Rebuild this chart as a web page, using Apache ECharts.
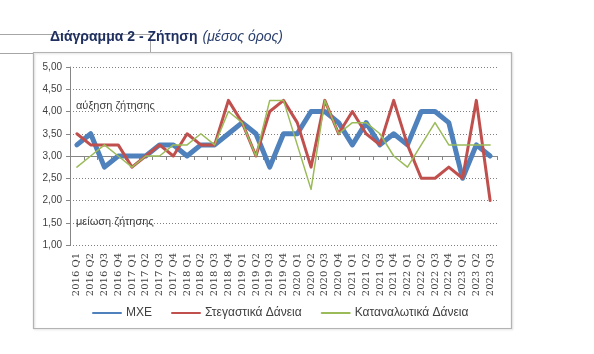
<!DOCTYPE html>
<html>
<head>
<meta charset="utf-8">
<script src="https://cdn.jsdelivr.net/npm/echarts@6/dist/echarts.min.js"></script>
<style>
html,body{margin:0;padding:0;background:#fff;}
#chart{width:594px;height:354px;}
</style>
</head>
<body>
<div id="chart"></div>
<script>
var categories = ['2016 Q1','2016 Q2','2016 Q3','2016 Q4','2017 Q1','2017 Q2','2017 Q3','2017 Q4',
  '2018 Q1','2018 Q2','2018 Q3','2018 Q4','2019 Q1','2019 Q2','2019 Q3','2019 Q4',
  '2020 Q1','2020 Q2','2020 Q3','2020 Q4','2021 Q1','2021 Q2','2021 Q3','2021 Q4',
  '2022 Q1','2022 Q2','2022 Q3','2022 Q4','2023 Q1','2023 Q2','2023 Q3'];
var seriesNames = ['ΜΧΕ', 'Στεγαστικά Δάνεια', 'Καταναλωτικά Δάνεια'];
var mxe = [3.25,3.5,2.75,3.0,3.0,3.0,3.25,3.25,3.0,3.25,3.25,3.5,3.75,3.5,2.75,3.5,
  3.5,4.0,4.0,3.75,3.25,3.75,3.25,3.5,3.25,4.0,4.0,3.75,2.5,3.25,3.0];
var housing = [3.5,3.25,3.25,3.25,2.75,3.0,3.25,3.0,3.5,3.25,3.25,4.25,3.75,3.0,4.0,4.25,
  3.75,2.75,4.25,3.5,4.0,3.5,3.25,4.25,3.25,2.5,2.5,2.75,2.5,4.25,2.0];
var consumer = [2.75,3.0,3.25,3.0,2.75,3.0,3.0,3.25,3.25,3.5,3.25,4.0,3.75,3.0,4.25,4.25,
  3.25,2.25,4.25,3.5,3.75,3.75,3.5,3.0,2.75,3.25,3.75,3.25,3.25,3.25,3.25];
var titleMain = 'Διάγραμμα 2 - Ζήτηση';
var titleSub = '(μέσος όρος)';
var noteUp = 'αύξηση ζήτησης';
var noteDown = 'μείωση ζήτησης';

var colors = ['#4f81bd', '#c0504d', '#9bbb59'];
var widths = [5, 3, 1.5];

var chart = echarts.init(document.getElementById('chart'), null, {renderer: 'canvas'});
var option = {
  backgroundColor: '#ffffff',
  animation: false,
  title: {
    left: 45, top: 23,
    text: '{b|' + titleMain + '} {i|' + titleSub + '}',
    textStyle: {
      fontWeight: 'normal',
      rich: {
        b: {fontFamily: 'Liberation Sans, Arial', fontSize: 14, fontWeight: 'bold', color: '#1f3060'},
        i: {fontFamily: 'Liberation Sans, Arial', fontSize: 14, fontWeight: 'normal', fontStyle: 'italic', color: '#2a3f6e'}
      }
    }
  },
  graphic: [
    {type: 'polyline', silent: true, z: 0, shape: {points: [[0,34.5],[150.5,34.5],[150.5,53]]}, style: {stroke: '#a6a6a6', lineWidth: 1, fill: null}},
    {type: 'line', silent: true, z: 0, shape: {x1: 0, y1: 53.5, x2: 33, y2: 53.5}, style: {stroke: '#a6a6a6', lineWidth: 1}},
    {type: 'rect', silent: true, z: 0, shape: {x: 33.5, y: 52.5, width: 478, height: 276}, style: {stroke: '#b3b3b3', lineWidth: 1.2, fill: null, shadowColor: 'rgba(0,0,0,0.15)', shadowBlur: 2, shadowOffsetX: 1, shadowOffsetY: 1}},
    {type: 'text', silent: true, z: 5, left: 76, top: 100, style: {text: noteUp, fontFamily: 'Liberation Sans, Arial', fontSize: 11, fill: '#404040'}},
    {type: 'text', silent: true, z: 5, left: 76, top: 216, style: {text: noteDown, fontFamily: 'Liberation Sans, Arial', fontSize: 11, fill: '#404040'}}
  ],
  legend: {
    orient: 'horizontal',
    left: 87, top: 302,
    itemWidth: 28, itemHeight: 12, itemGap: 19,
    itemStyle: {opacity: 0},
    textStyle: {fontFamily: 'Liberation Sans, Arial', fontSize: 12, color: '#404040'},
    data: seriesNames
  },
  grid: {left: 70, top: 67, width: 427, height: 178, containLabel: false},
  xAxis: [
    {
      type: 'category', data: categories, boundaryGap: true, position: 'bottom',
      axisLine: {show: false, onZero: false}, axisTick: {show: false},
      axisLabel: {interval: 0, rotate: 90, margin: 8, fontFamily: 'DejaVu Serif', fontSize: 10, color: '#404040'},
      splitLine: {show: false}
    },
    {
      type: 'category', data: categories, boundaryGap: true, position: 'bottom',
      axisLine: {show: true, onZero: true, onZeroAxisIndex: 1, lineStyle: {color: '#868686', width: 1}},
      axisTick: {show: true, length: 4, interval: 0, lineStyle: {color: '#868686'}},
      axisLabel: {show: false}, splitLine: {show: false}
    }
  ],
  yAxis: [
    {
      type: 'value', min: 1, max: 5, interval: 0.5,
      axisLine: {show: true, lineStyle: {color: '#868686'}},
      axisTick: {show: true, length: 4, lineStyle: {color: '#868686'}},
      axisLabel: {margin: 8, fontFamily: 'Liberation Sans, Arial', fontSize: 10, color: '#404040',
        formatter: function (v) { return v.toFixed(2).replace('.', ','); }},
      splitLine: {show: true, lineStyle: {color: '#808080', type: [1, 2], width: 1}}
    },
    {
      type: 'value', min: -2, max: 2, show: false,
      splitLine: {show: false}
    }
  ],
  series: [mxe, housing, consumer].map(function (d, i) {
    return {
      name: seriesNames[i], type: 'line', data: d, xAxisIndex: 0, yAxisIndex: 0,
      symbol: 'none', showSymbol: false, smooth: false, z: 2 + i,
      lineStyle: {color: colors[i], width: widths[i], cap: 'round', join: 'round'},
      itemStyle: {color: colors[i]}
    };
  })
};
chart.setOption(option);
</script>
</body>
</html>
